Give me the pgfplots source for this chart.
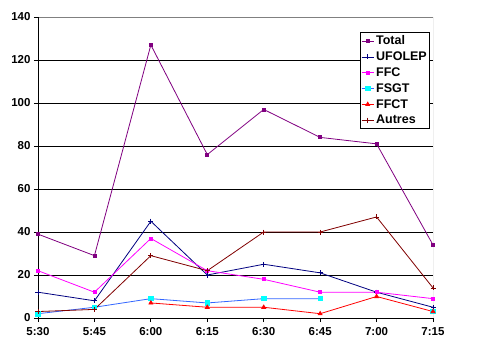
\documentclass[border=0pt]{standalone}
\usepackage{pgfplots}
\pgfplotsset{compat=1.18}
\usepackage{fontspec}
\setmainfont{Liberation Sans}
\definecolor{cTotal}{HTML}{800080}
\definecolor{cUfolep}{HTML}{000080}
\definecolor{cFFC}{HTML}{FF00FF}
\definecolor{cFSGTline}{HTML}{3366FF}
\definecolor{cFSGTmark}{HTML}{00FFFF}
\definecolor{cFFCT}{HTML}{FF0000}
\definecolor{cAutres}{HTML}{800000}
\begin{document}
\begin{tikzpicture}
\path (-38pt,-30pt) rectangle (462pt,318pt);
\begin{axis}[
  scale only axis, width=395pt, height=301pt,
  at={(0pt,0pt)}, anchor=south west,
  xmin=0, xmax=7, ymin=0, ymax=140,
  xtick={0,...,7},
  xticklabels={5:30,5:45,6:00,6:15,6:30,6:45,7:00,7:15},
  ytick={0,20,...,140},
  ymajorgrids, grid style={black, line width=0.8pt},
  axis line style={draw=none},
  tick align=outside, major tick length=4pt,
  xtick pos=bottom, ytick pos=left,
  tick style={black, line width=0.8pt},
  /pgf/number format/assume math mode=true,
  ticklabel style={font=\fontsize{11.5}{12}\selectfont\bfseries},
  xticklabel style={yshift=-2pt},
  unbounded coords=jump,
  legend cell align=left,
  legend style={at={(rel axis cs:0.815,0.951)}, anchor=north west,
    draw=black, line width=0.8pt, fill=white, font=\fontsize{12.5}{15}\selectfont\bfseries,
    inner xsep=1pt, inner ysep=2pt, row sep=2.6pt,
    nodes={inner xsep=2pt, inner ysep=1.5pt}},
  legend image code/.code={\draw[mark repeat=2,mark phase=2,#1] plot coordinates {(0pt,0pt) (6pt,0pt) (12pt,0pt)};},
  every axis plot/.append style={line width=0.8pt},
]
\addplot[color=cTotal, mark=square*, mark size=1.5pt] coordinates {
  (0,39) (1,29) (2,127) (3,76) (4,97) (5,84) (6,81) (7,34)};
\addlegendentry{Total}
\addplot[color=cUfolep, mark=+, mark size=2.5pt] coordinates {
  (0,12) (1,8) (2,45) (3,20) (4,25) (5,21) (6,12) (7,5)};
\addlegendentry{UFOLEP}
\addplot[color=cFFC, mark=square*, mark size=1.5pt] coordinates {
  (0,22) (1,12) (2,37) (3,22) (4,18) (5,12) (6,12) (7,9)};
\addlegendentry{FFC}
\addplot[color=cFSGTline, mark=square*, mark size=2.2pt, mark options={draw=cFSGTmark, fill=cFSGTmark}] coordinates {
  (0,2) (1,5) (2,9) (3,7) (4,9) (5,9) (6,nan) (7,3)};
\addlegendentry{FSGT}
\addplot[color=cFFCT, mark=triangle*, mark size=2.2pt] coordinates {
  (0,nan) (1,nan) (2,7) (3,5) (4,5) (5,2) (6,10) (7,3)};
\addlegendentry{FFCT}
\addplot[color=cAutres, mark=+, mark size=2.5pt] coordinates {
  (0,3) (1,4) (2,29) (3,22) (4,40) (5,40) (6,47) (7,14)};
\addlegendentry{Autres}
\draw[gray, line width=0.8pt] (rel axis cs:0,1) -- (rel axis cs:1,1) -- (rel axis cs:1,0);
\draw[black, line width=0.8pt] (rel axis cs:0,1) -- (rel axis cs:0,0) -- (rel axis cs:1,0);
\end{axis}
\end{tikzpicture}
\end{document}
